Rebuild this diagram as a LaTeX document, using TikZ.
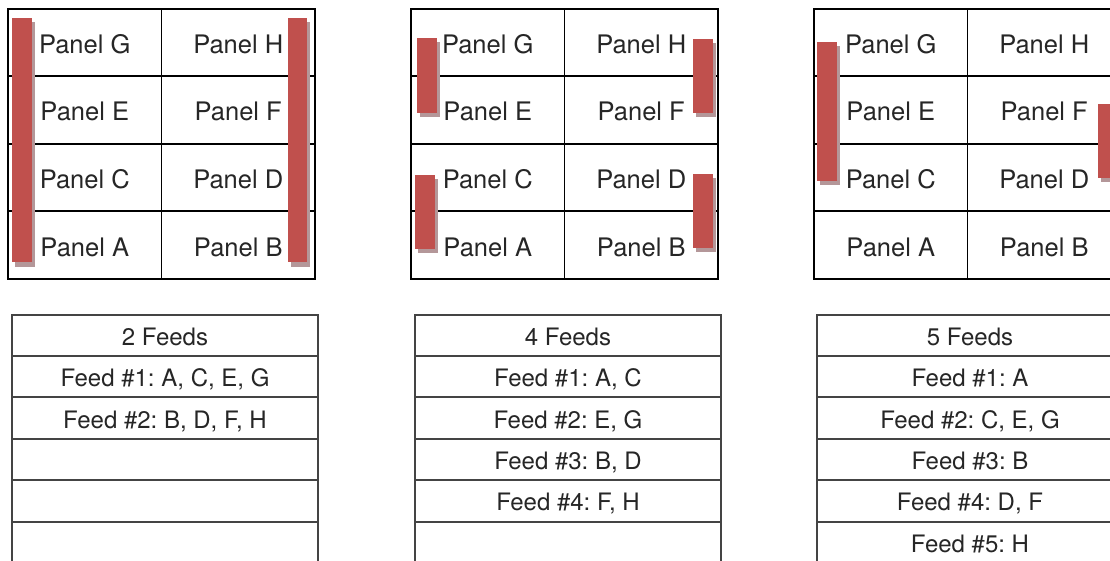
\documentclass[tikz,border=0pt]{standalone}
\usepackage{fontspec}
\setmainfont{TeX Gyre Heros}
\frenchspacing
\definecolor{barc}{HTML}{C0504D}
\definecolor{shc}{HTML}{B49799}
\definecolor{tblline}{HTML}{444444}
\definecolor{txt}{HTML}{262626}
\newcommand\panelfont{\fontsize{25.5}{30}\selectfont}
\newcommand\feedfont{\fontsize{24}{28}\selectfont}
\newcommand\panelgrid[2]{%
  \node[panelcell] (#1G) at (#2+76.75,42.5)  {Panel G};
  \node[panelcell] (#1H) at (#2+230.25,42.5) {Panel H};
  \node[panelcell] (#1E) at (#2+76.75,110)  {Panel E};
  \node[panelcell] (#1F) at (#2+230.25,110) {Panel F};
  \node[panelcell] (#1C) at (#2+76.75,177.5)  {Panel C};
  \node[panelcell] (#1D) at (#2+230.25,177.5) {Panel D};
  \node[panelcell] (#1A) at (#2+76.75,245)  {Panel A};
  \node[panelcell] (#1B) at (#2+230.25,245) {Panel B};
}
\newcommand\feedtable[8]{%
  \node[feedcell] (#1r1) at (#2+153,335.2) {#3};
  \node[feedcell] (#1r2) at (#2+153,376.6) {#4};
  \node[feedcell] (#1r3) at (#2+153,418.0) {#5};
  \node[feedcell] (#1r4) at (#2+153,459.4) {#6};
  \node[feedcell] (#1r5) at (#2+153,500.8) {#7};
  \node[feedcell] (#1r6) at (#2+153,542.2) {#8};
}
\newcommand\feedbar[4]{%
  \fill[barshadow] ({#1+2.5},{#2+4.5}) rectangle ({#3+2.5},{#4+4.5});
  \fill[barfill] (#1,#2) rectangle (#3,#4);
}
\begin{document}
\begin{tikzpicture}[x=1pt,y=-1pt,
  panelcell/.style={draw=black,line width=1.6pt,minimum width=153.5pt,minimum height=67.5pt,inner sep=0pt,text height=26pt,text depth=4pt,font=\panelfont,text=txt},
  feedcell/.style={draw=tblline,line width=2pt,minimum width=306pt,minimum height=41.4pt,inner sep=0pt,text height=24pt,text depth=4pt,font=\feedfont,text=txt},
  barfill/.style={fill=barc},
  barshadow/.style={fill=shc}]
\useasboundingbox (0,0) rectangle (1110,561);
\clip (0,0) rectangle (1110,561);
\fill[white] (0,0) rectangle (1110,561);
% panel grids
\panelgrid{a}{8}
\panelgrid{b}{411}
\panelgrid{c}{814}
% feed bars
\feedbar{12}{18}{32}{262}
\feedbar{288}{18}{307}{262}
\feedbar{417}{38}{437}{113}
\feedbar{693}{39}{713}{113}
\feedbar{415}{175}{435}{249}
\feedbar{693}{174}{713}{248}
\feedbar{817}{42}{837}{181}
\feedbar{1098}{104}{1118}{178}
% feed tables
\feedtable{ta}{12}{2 Feeds}{Feed \#1: A, C, E, G}{Feed \#2: B, D, F, H}{}{}{}
\feedtable{tb}{415}{4 Feeds}{Feed \#1: A, C}{Feed \#2: E, G}{Feed \#3: B, D}{Feed \#4: F, H}{}
\feedtable{tc}{817}{5 Feeds}{Feed \#1: A}{Feed \#2: C, E, G}{Feed \#3: B}{Feed \#4: D, F}{Feed \#5: H}
\end{tikzpicture}
\end{document}
